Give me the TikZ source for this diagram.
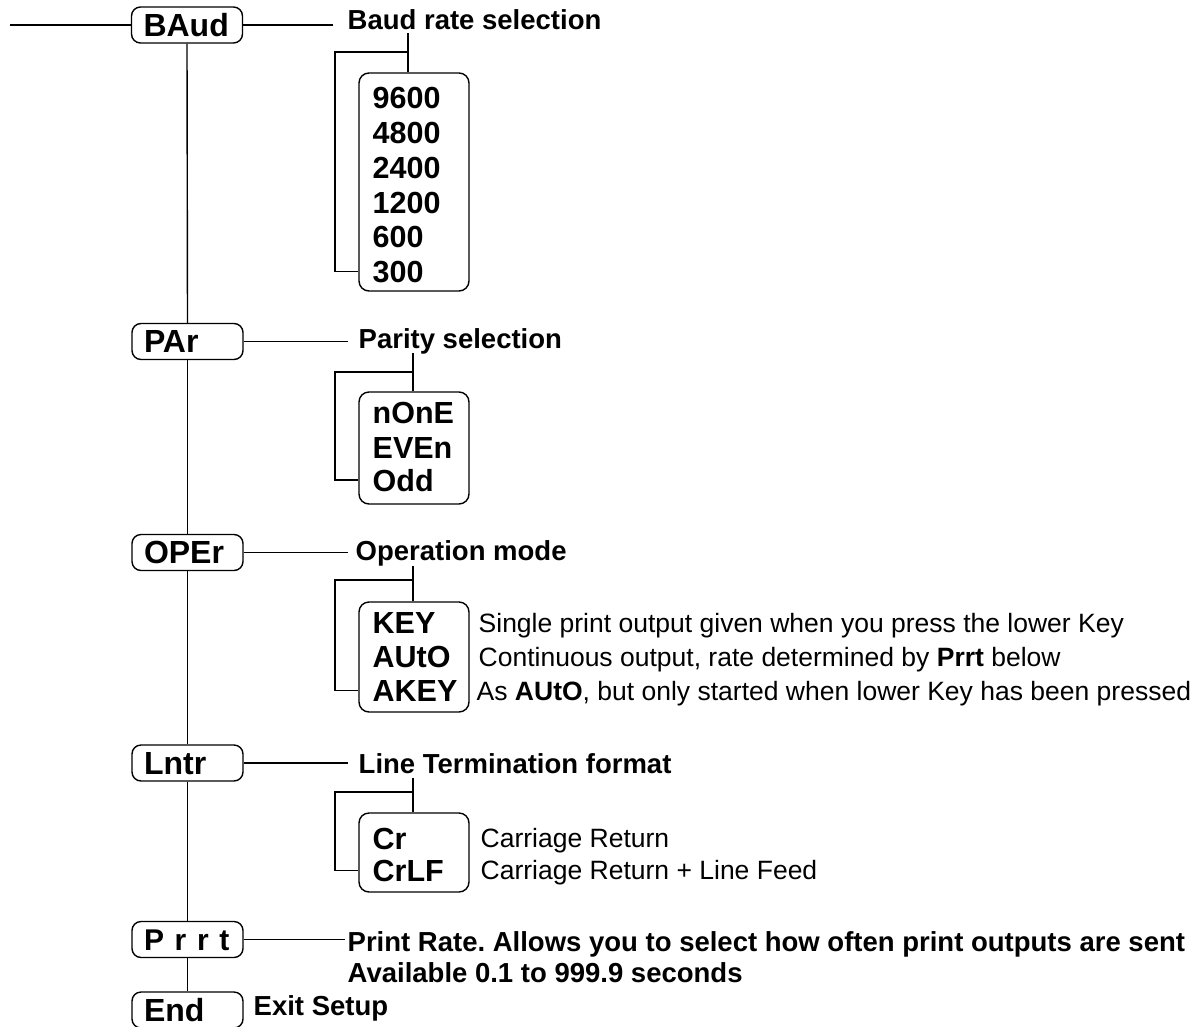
\documentclass[tikz,border=0pt]{standalone}
\usepackage{fontspec}
\setmainfont{Liberation Sans}
\frenchspacing
\begin{document}
\begin{tikzpicture}[x=1pt,y=-1pt,line width=1.4pt,
  mainbox/.style={draw,rounded corners=9pt,minimum width=111pt,minimum height=36pt,inner ysep=0pt,text height=22.5pt,text depth=0pt,text width=87pt,inner xsep=12pt,align=left,font=\fontsize{32}{36}\selectfont\bfseries},
  listbox/.style={draw,rounded corners=10pt,minimum width=110pt,inner sep=0pt},
  item/.style={anchor=base west,inner sep=0pt,font=\fontsize{30.5}{34}\selectfont\bfseries},
  lab/.style={anchor=base west,inner sep=0pt,font=\fontsize{27.5}{31}\selectfont\bfseries},
  desc/.style={anchor=base west,inner sep=0pt,font=\fontsize{26.5}{31}\selectfont},
]
\useasboundingbox (0,0) rectangle (1202,1026);

% main boxes
\node[mainbox] (baud) at (187,25) {BAud};
\node[mainbox] (par) at (187.5,341.5) {PAr};
\node[mainbox] (oper) at (187.5,552.5) {OPEr};
\node[mainbox] (lntr) at (187.5,763) {Lntr};
\node[mainbox] (prrt) at (187.5,939.5) {\mbox{\fontsize{30}{34}\selectfont P r r t}};
\node[mainbox] (end) at (187.5,1010) {End};

\coordinate (in) at (10,25);
\draw (in) -- (baud.west);
\draw (baud.south) -- (par.north);
\draw (par.south) -- (oper.north);
\draw (oper.south) -- (lntr.north);
\draw (lntr.south) -- (prrt.north);
\draw (prrt.south) -- (end.north);

% right connectors
\coordinate (e1) at (333,25);
\coordinate (e2) at (348,341.5);
\coordinate (e3) at (348,552.5);
\coordinate (e4) at (348,763);
\coordinate (e5) at (345,939.5);
\draw (baud.east) -- (e1);
\draw (par.east) -- (e2);
\draw (oper.east) -- (e3);
\draw (lntr.east) -- (e4);
\draw (prrt.east) -- (e5);

% labels
\node[lab] (l1) at (347,29.5) {Baud rate selection};
\node[lab] (l2) at (358,348.5) {Parity selection};
\node[lab] (l3) at (355,560.5) {Operation mode};
\node[lab] (l4) at (358,773.5) {Line Termination format};
\node[lab] (l5) at (347,951.5) {Print Rate. Allows you to select how often print outputs are sent};
\node[lab] (l6) at (347,982.5) {Available 0.1 to 999.9 seconds};
\node[lab] (l7) at (253,1015) {Exit Setup};

% baud list
\node[listbox,minimum height=218pt] (blist) at (414,182) {};
\node[item] (b1) at (372,108) {9600};
\node[item] (b2) at (372,143) {4800};
\node[item] (b3) at (372,178) {2400};
\node[item] (b4) at (372,213) {1200};
\node[item] (b5) at (372,247) {600};
\node[item] (b6) at (372,282) {300};
\coordinate (bt) at (408,33);
\coordinate (bh) at (335,52);
\draw (bt) -- (bt |- blist.north);
\draw (bt |- bh) -- (bh) |- (blist.west |- b6.center);

% parity list
\node[listbox,minimum height=112pt] (plist) at (414,448) {};
\node[item] (p1) at (372,423) {nOnE};
\node[item] (p2) at (372,458) {EVEn};
\node[item] (p3) at (372,491) {Odd};
\coordinate (pt) at (413,353);
\coordinate (ph) at (335,372);
\draw (pt) -- (pt |- plist.north);
\draw (pt |- ph) -- (ph) |- (plist.west |- p3.center);

% operation list
\node[listbox,minimum height=110pt] (olist) at (414,657) {};
\node[item] (o1) at (372,633) {KEY};
\node[item] (o2) at (372,667) {AUtO};
\node[item] (o3) at (372,701) {AKEY};
\coordinate (ot) at (413,566);
\coordinate (oh) at (335,580);
\draw (ot) -- (ot |- olist.north);
\draw (ot |- oh) -- (oh) |- (olist.west |- o3.center);
\node[desc] (d1) at (478,632) {Single print output given when you press the lower Key};
\node[desc] (d2) at (478,666) {Continuous output, rate determined by \textbf{Prrt} below};
\node[desc] (d3) at (476,700) {As \textbf{AUtO}, but only started when lower Key has been pressed};

% line termination list
\node[listbox,minimum height=79pt] (llist) at (414,852.5) {};
\node[item] (t1) at (372,849) {Cr};
\node[item] (t2) at (372,881) {CrLF};
\coordinate (tt) at (413,778);
\coordinate (th) at (335,792);
\draw (tt) -- (tt |- llist.north);
\draw (tt |- th) -- (th) |- (llist.west |- t2.center);
\node[desc] (d4) at (480,847) {Carriage Return};
\node[desc] (d5) at (480,879) {Carriage Return + Line Feed};
\end{tikzpicture}
\end{document}
